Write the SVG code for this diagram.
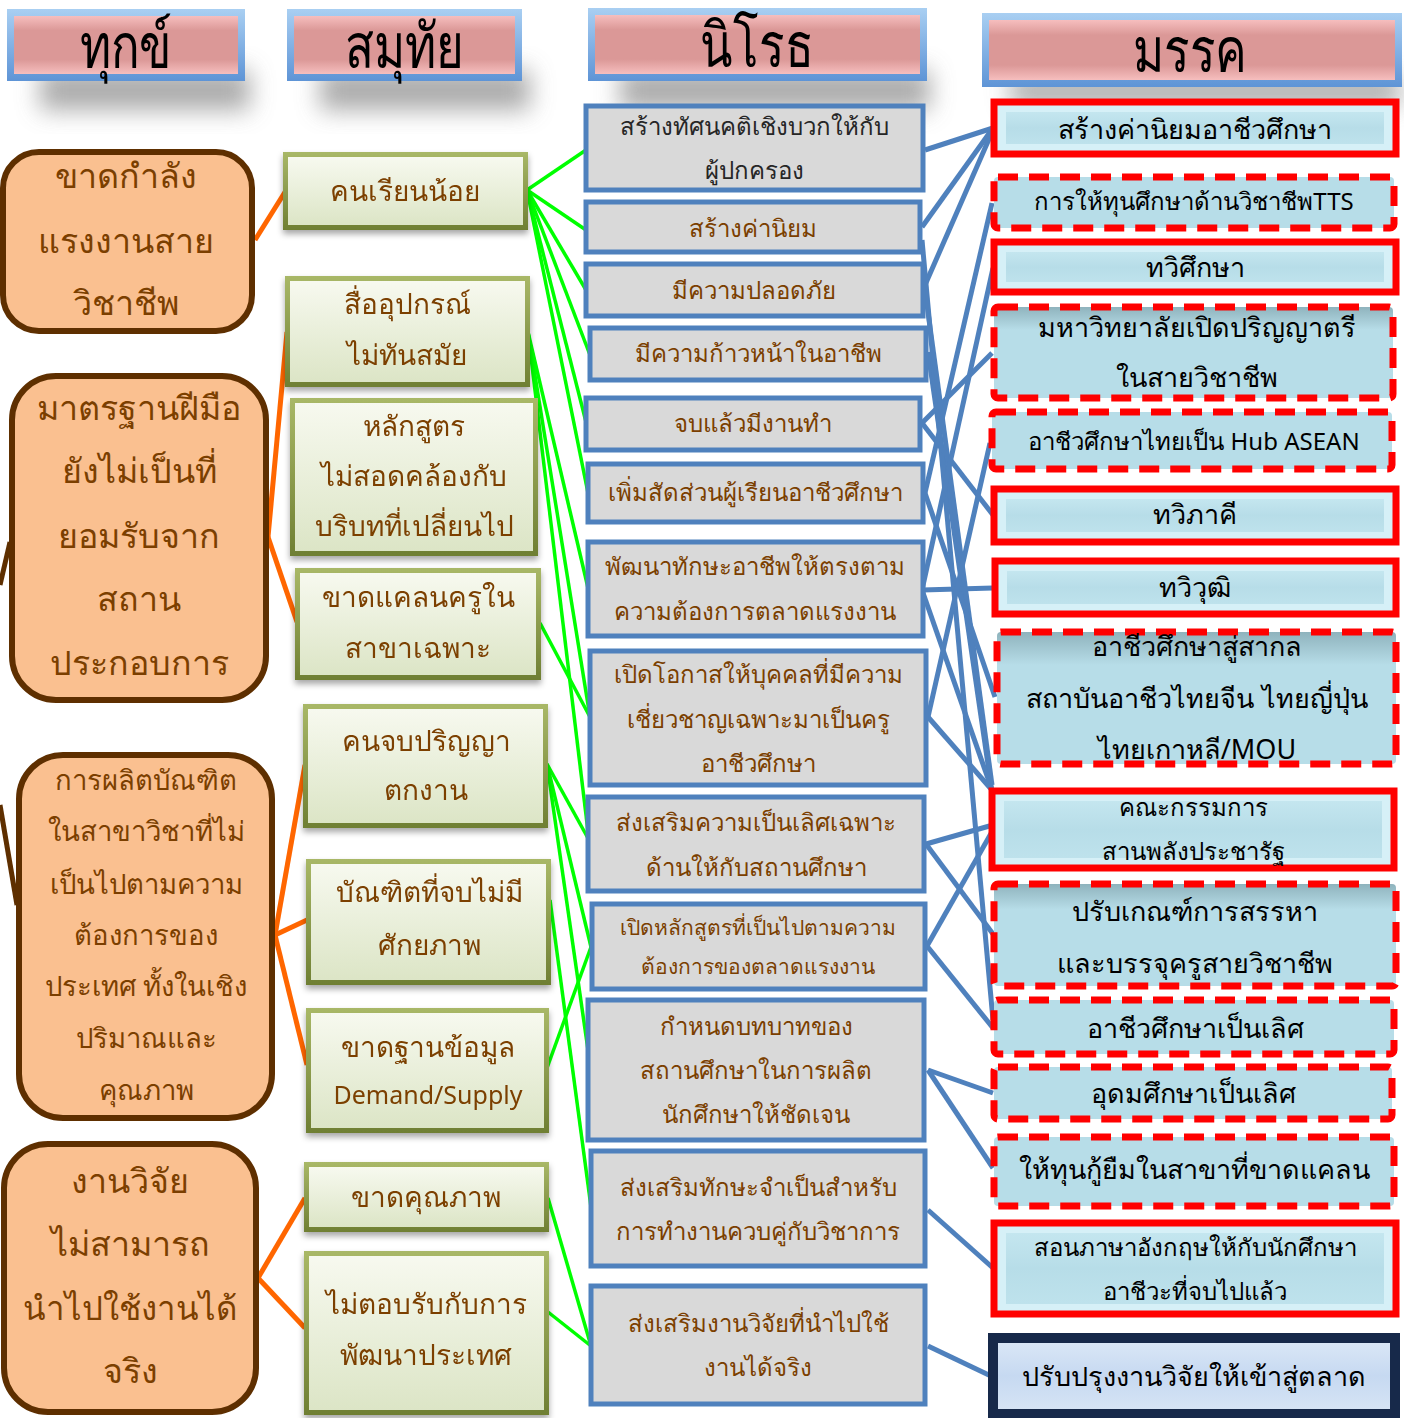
<svg xmlns="http://www.w3.org/2000/svg" width="1404" height="1418" viewBox="0 0 1404 1418">
<defs>
<style>
text{font-family:"Noto Sans","DejaVu Sans",sans-serif;text-anchor:middle;dominant-baseline:central}
.h text{font-size:54px;fill:#000}
.c1 rect{fill:#FAC090;stroke:#5E2F00;stroke-width:6}
.c1 text{font-size:34px;fill:#7B3F00}
.c2 text{font-size:28px;fill:#7B3F00}
.c3 rect{fill:#D9D9D9;stroke:#4F81BD;stroke-width:5}
.c3 text{font-size:24px;fill:#7B3F00}
.c4 text{font-size:27px;fill:#000}
.c4 .s{font-size:24px}
.sol{fill:#D6F0F7;stroke:#FF0000;stroke-width:7}
.in{fill:url(#gM)}
.das{fill:#B7DDE8;stroke:#FF0000;stroke-width:7;stroke-dasharray:20 11}
.org line{stroke:#FF6600;stroke-width:5}
.grn line{stroke:#00FF00;stroke-width:3.5}
.blu line{stroke:#4F81BD;stroke-width:5}
</style>
<linearGradient id="gHB" x1="0" y1="0" x2="0" y2="1"><stop offset="0" stop-color="#A9CFF2"/><stop offset="1" stop-color="#5E94D6"/></linearGradient>
<linearGradient id="gHP" x1="0" y1="0" x2="0" y2="1"><stop offset="0" stop-color="#F6BEBE"/><stop offset=".25" stop-color="#DB9897"/><stop offset=".75" stop-color="#DB9897"/><stop offset="1" stop-color="#F6BEBE"/></linearGradient>
<linearGradient id="gGB" x1="0" y1="0" x2="0" y2="1"><stop offset="0" stop-color="#A9B867"/><stop offset="1" stop-color="#6F7F33"/></linearGradient>
<linearGradient id="gGF" x1="0" y1="0" x2="0" y2="1"><stop offset="0" stop-color="#F7F9EF"/><stop offset="1" stop-color="#DCE5C6"/></linearGradient>
<linearGradient id="gM" x1="0" y1="0" x2="0" y2="1"><stop offset="0" stop-color="#C4E6EF"/><stop offset=".5" stop-color="#B7DDE8"/><stop offset="1" stop-color="#BEE2EC"/></linearGradient>
<linearGradient id="gD" x1="0" y1="0" x2="0" y2="1"><stop offset="0" stop-color="#8FB3BD"/><stop offset=".25" stop-color="#B7DDE8"/><stop offset="1" stop-color="#B7DDE8"/></linearGradient>
<linearGradient id="gN" x1="0" y1="0" x2="0" y2="1"><stop offset="0" stop-color="#DCE8F7"/><stop offset=".5" stop-color="#C6D9F1"/><stop offset="1" stop-color="#D8E5F5"/></linearGradient>
<filter id="ds" x="-10%" y="-10%" width="120%" height="130%"><feDropShadow dx="0" dy="4" stdDeviation="3" flood-color="#000" flood-opacity=".35"/></filter>
<filter id="blur" x="-20%" y="-60%" width="140%" height="220%"><feGaussianBlur stdDeviation="12"/></filter>
</defs>
<rect width="1404" height="1418" fill="#fff"/>

<g id="header-shadows" fill="#8f8f8f" opacity=".75" filter="url(#blur)">
<rect x="40" y="70" width="210" height="40"/>
<rect x="320" y="70" width="210" height="40"/>
<rect x="620" y="70" width="310" height="40"/>
<rect x="1010" y="76" width="390" height="30"/>
</g>

<g id="h-dukkha" class="h"><rect x="7" y="9" width="238" height="72" fill="url(#gHB)"/><rect x="14" y="16" width="224" height="58" fill="url(#gHP)"/><text transform="translate(126,44) scale(0.88,1.15)">ทุกข์</text></g>
<g id="h-samuthai" class="h"><rect x="287" y="9" width="235" height="72" fill="url(#gHB)"/><rect x="294" y="16" width="221" height="58" fill="url(#gHP)"/><text transform="translate(404,44) scale(0.88,1.15)">สมุทัย</text></g>
<g id="h-nirodha" class="h"><rect x="588" y="8" width="339" height="73" fill="url(#gHB)"/><rect x="595" y="15" width="325" height="59" fill="url(#gHP)"/><text transform="translate(757,43) scale(0.88,1.15)">นิโรธ</text></g>
<g id="h-magga" class="h"><rect x="982" y="13" width="420" height="74" fill="url(#gHB)"/><rect x="989" y="20" width="406" height="60" fill="url(#gHP)"/><text transform="translate(1190,48) scale(0.88,1.15)">มรรค</text></g>

<g id="connectors">
<g class="org">
<line x1="255" y1="240" x2="285" y2="192"/>
<line x1="268" y1="537" x2="287" y2="332"/>
<line x1="268" y1="537" x2="297" y2="622"/>
<line x1="275" y1="935" x2="305" y2="765"/>
<line x1="275" y1="935" x2="307" y2="920"/>
<line x1="275" y1="935" x2="307" y2="1065"/>
<line x1="258" y1="1278" x2="305" y2="1198"/>
<line x1="258" y1="1278" x2="305" y2="1328"/>
<line x1="0" y1="585" x2="10" y2="542" style="stroke:#5E2F00"/>
<line x1="0" y1="805" x2="17" y2="905" style="stroke:#5E2F00"/>
</g>
<g class="grn">
<line x1="527" y1="190" x2="586" y2="150"/>
<line x1="527" y1="190" x2="586" y2="230"/>
<line x1="527" y1="190" x2="586" y2="290"/>
<line x1="527" y1="190" x2="590" y2="355"/>
<line x1="527" y1="190" x2="586" y2="422"/>
<line x1="527" y1="190" x2="588" y2="493"/>
<line x1="528" y1="332" x2="588" y2="588"/>
<line x1="528" y1="332" x2="590" y2="717"/>
<line x1="528" y1="332" x2="589" y2="840"/>
<line x1="540" y1="623" x2="590" y2="717"/>
<line x1="547" y1="764" x2="589" y2="840"/>
<line x1="547" y1="764" x2="591" y2="947"/>
<line x1="547" y1="764" x2="591" y2="1071"/>
<line x1="550" y1="900" x2="591" y2="1207"/>
<line x1="547" y1="1068" x2="591" y2="947"/>
<line x1="548" y1="1198" x2="591" y2="1346"/>
<line x1="548" y1="1312" x2="591" y2="1346"/>
</g>
<g class="blu">
<line x1="925" y1="150" x2="993" y2="128"/>
<line x1="922" y1="227" x2="993" y2="128"/>
<line x1="925" y1="285" x2="993" y2="130"/>
<line x1="928" y1="352" x2="992" y2="792"/>
<line x1="922" y1="240" x2="993" y2="1020"/>
<line x1="925" y1="290" x2="992" y2="785"/>
<line x1="922" y1="423" x2="993" y2="515"/>
<line x1="922" y1="423" x2="992" y2="353"/>
<line x1="925" y1="493" x2="992" y2="203"/>
<line x1="925" y1="493" x2="995" y2="697"/>
<line x1="922" y1="590" x2="993" y2="588"/>
<line x1="922" y1="590" x2="993" y2="268"/>
<line x1="922" y1="590" x2="992" y2="790"/>
<line x1="928" y1="717" x2="990" y2="443"/>
<line x1="928" y1="717" x2="992" y2="790"/>
<line x1="926" y1="844" x2="993" y2="825"/>
<line x1="926" y1="844" x2="993" y2="934"/>
<line x1="927" y1="946" x2="993" y2="830"/>
<line x1="927" y1="946" x2="993" y2="1028"/>
<line x1="928" y1="1070" x2="993" y2="1093"/>
<line x1="928" y1="1070" x2="993" y2="1168"/>
<line x1="928" y1="1210" x2="993" y2="1268"/>
<line x1="928" y1="1346" x2="993" y2="1377"/>
</g>
</g>

<g id="a1" class="c1"><rect x="3" y="152" width="249" height="179" rx="36"/><text x="126" y="175">ขาดกำลัง</text><text x="126" y="240">แรงงานสาย</text><text x="126" y="302">วิชาชีพ</text></g>
<g id="a2" class="c1"><rect x="12" y="376" width="254" height="324" rx="44"/><text x="139" y="407">มาตรฐานฝีมือ</text><text x="139" y="470">ยังไม่เป็นที่</text><text x="139" y="535">ยอมรับจาก</text><text x="139" y="598">สถาน</text><text x="139" y="662">ประกอบการ</text></g>
<g id="a3" class="c1"><rect x="19" y="755" width="253" height="363" rx="44"/><text x="146" y="779" style="font-size:27.5px">การผลิตบัณฑิต</text><text x="146" y="830" style="font-size:27.5px">ในสาขาวิชาที่ไม่</text><text x="146" y="883" style="font-size:27.5px">เป็นไปตามความ</text><text x="146" y="934" style="font-size:27.5px">ต้องการของ</text><text x="146" y="985" style="font-size:27.5px">ประเทศ ทั้งในเชิง</text><text x="146" y="1037" style="font-size:27.5px">ปริมาณและ</text><text x="146" y="1089" style="font-size:27.5px">คุณภาพ</text></g>
<g id="a4" class="c1"><rect x="4" y="1144" width="252" height="268" rx="44"/><text x="130" y="1180">งานวิจัย</text><text x="130" y="1243">ไม่สามารถ</text><text x="130" y="1307" style="font-size:33px">นำไปใช้งานได้</text><text x="130" y="1370">จริง</text></g>

<g id="b1" class="c2" filter="url(#ds)"><rect x="283" y="152" width="245" height="78" fill="url(#gGB)"/><rect x="288" y="157" width="235" height="68" fill="url(#gGF)"/><text x="405" y="190">คนเรียนน้อย</text></g>
<g id="b2" class="c2" filter="url(#ds)"><rect x="285" y="276" width="245" height="111" fill="url(#gGB)"/><rect x="290" y="281" width="235" height="101" fill="url(#gGF)"/><text x="407" y="303">สื่ออุปกรณ์</text><text x="407" y="354">ไม่ทันสมัย</text></g>
<g id="b3" class="c2" filter="url(#ds)"><rect x="290" y="398" width="248" height="158" fill="url(#gGB)"/><rect x="295" y="403" width="238" height="148" fill="url(#gGF)"/><text x="414" y="425">หลักสูตร</text><text x="414" y="475">ไม่สอดคล้องกับ</text><text x="414" y="525">บริบทที่เปลี่ยนไป</text></g>
<g id="b4" class="c2" filter="url(#ds)"><rect x="295" y="568" width="246" height="112" fill="url(#gGB)"/><rect x="300" y="573" width="236" height="102" fill="url(#gGF)"/><text x="418" y="596">ขาดแคลนครูใน</text><text x="418" y="647">สาขาเฉพาะ</text></g>
<g id="b5" class="c2" filter="url(#ds)"><rect x="303" y="704" width="245" height="124" fill="url(#gGB)"/><rect x="308" y="709" width="235" height="114" fill="url(#gGF)"/><text x="426" y="740">คนจบปริญญา</text><text x="426" y="789">ตกงาน</text></g>
<g id="b6" class="c2" filter="url(#ds)"><rect x="306" y="859" width="245" height="126" fill="url(#gGB)"/><rect x="311" y="864" width="235" height="116" fill="url(#gGF)"/><text x="429" y="891">บัณฑิตที่จบไม่มี</text><text x="429" y="944">ศักยภาพ</text></g>
<g id="b7" class="c2" filter="url(#ds)"><rect x="306" y="1008" width="243" height="125" fill="url(#gGB)"/><rect x="311" y="1013" width="233" height="115" fill="url(#gGF)"/><text x="428" y="1046">ขาดฐานข้อมูล</text><text x="428" y="1094" style="font-size:25px">Demand/Supply</text></g>
<g id="b8" class="c2" filter="url(#ds)"><rect x="304" y="1162" width="245" height="70" fill="url(#gGB)"/><rect x="309" y="1167" width="235" height="60" fill="url(#gGF)"/><text x="426" y="1196">ขาดคุณภาพ</text></g>
<g id="b9" class="c2" filter="url(#ds)"><rect x="304" y="1251" width="245" height="164" fill="url(#gGB)"/><rect x="309" y="1256" width="235" height="154" fill="url(#gGF)"/><text x="426" y="1303">ไม่ตอบรับกับการ</text><text x="426" y="1354">พัฒนาประเทศ</text></g>

<g id="n1" class="c3"><rect x="586" y="106" width="337" height="84"/><text x="754" y="125" style="fill:#262626">สร้างทัศนคติเชิงบวกให้กับ</text><text x="754" y="169" style="fill:#262626">ผู้ปกครอง</text></g>
<g id="n2" class="c3"><rect x="586" y="202" width="334" height="50"/><text x="753" y="227">สร้างค่านิยม</text></g>
<g id="n3" class="c3"><rect x="586" y="264" width="337" height="52"/><text x="754" y="289">มีความปลอดภัย</text></g>
<g id="n4" class="c3"><rect x="590" y="328" width="336" height="52"/><text x="758" y="352">มีความก้าวหน้าในอาชีพ</text></g>
<g id="n5" class="c3"><rect x="586" y="398" width="334" height="52"/><text x="753" y="422">จบแล้วมีงานทำ</text></g>
<g id="n6" class="c3"><rect x="588" y="464" width="335" height="58"/><text x="755" y="491">เพิ่มสัดส่วนผู้เรียนอาชีวศึกษา</text></g>
<g id="n7" class="c3"><rect x="588" y="542" width="335" height="94"/><text x="755" y="565">พัฒนาทักษะอาชีพให้ตรงตาม</text><text x="755" y="610">ความต้องการตลาดแรงงาน</text></g>
<g id="n8" class="c3"><rect x="590" y="651" width="336" height="134"/><text x="758" y="673">เปิดโอกาสให้บุคคลที่มีความ</text><text x="758" y="718">เชี่ยวชาญเฉพาะมาเป็นครู</text><text x="758" y="762">อาชีวศึกษา</text></g>
<g id="n9" class="c3"><rect x="588" y="797" width="336" height="94"/><text x="756" y="821">ส่งเสริมความเป็นเลิศเฉพาะ</text><text x="756" y="866">ด้านให้กับสถานศึกษา</text></g>
<g id="n10" class="c3"><rect x="592" y="904" width="333" height="85"/><text x="758" y="927" style="font-size:21px">เปิดหลักสูตรที่เป็นไปตามความ</text><text x="758" y="966" style="font-size:21px">ต้องการของตลาดแรงงาน</text></g>
<g id="n11" class="c3"><rect x="588" y="1000" width="336" height="140"/><text x="756" y="1025">กำหนดบทบาทของ</text><text x="756" y="1069">สถานศึกษาในการผลิต</text><text x="756" y="1113">นักศึกษาให้ชัดเจน</text></g>
<g id="n12" class="c3"><rect x="591" y="1151" width="334" height="115"/><text x="758" y="1186">ส่งเสริมทักษะจำเป็นสำหรับ</text><text x="758" y="1230">การทำงานควบคู่กับวิชาการ</text></g>
<g id="n13" class="c3"><rect x="591" y="1286" width="334" height="118"/><text x="758" y="1322">ส่งเสริมงานวิจัยที่นำไปใช้</text><text x="758" y="1366">งานได้จริง</text></g>

<g id="m1" class="c4"><rect class="sol" x="994" y="102" width="402" height="52"/><rect class="in" x="1006" y="112" width="378" height="32"/><text x="1195" y="128">สร้างค่านิยมอาชีวศึกษา</text></g>
<g id="m2" class="c4"><rect class="das" x="994" y="177" width="400" height="51" rx="4"/><text class="s" x="1194" y="200">การให้ทุนศึกษาด้านวิชาชีพTTS</text></g>
<g id="m3" class="c4"><rect class="sol" x="994" y="242" width="402" height="50"/><rect class="in" x="1006" y="252" width="378" height="30"/><text x="1195" y="266">ทวิศึกษา</text></g>
<g id="m4" class="c4"><rect class="das" x="994" y="307" width="399" height="91" rx="4" style="fill:url(#gD)"/><text x="1197" y="326">มหาวิทยาลัยเปิดปริญญาตรี</text><text x="1197" y="376">ในสายวิชาชีพ</text></g>
<g id="m5" class="c4"><rect class="das" x="992" y="412" width="400" height="57" rx="4"/><text class="s" x="1194" y="440">อาชีวศึกษาไทยเป็น Hub ASEAN</text></g>
<g id="m6" class="c4"><rect class="sol" x="994" y="489" width="402" height="53"/><rect class="in" x="1006" y="499" width="378" height="33"/><text x="1195" y="513">ทวิภาคี</text></g>
<g id="m7" class="c4"><rect class="sol" x="995" y="561" width="401" height="53"/><rect class="in" x="1007" y="571" width="377" height="33"/><text x="1195" y="586">ทวิวุฒิ</text></g>
<g id="m8" class="c4"><rect class="das" x="997" y="632" width="399" height="132" rx="4" style="fill:url(#gD)"/><text x="1197" y="645">อาชีวศึกษาสู่สากล</text><text x="1197" y="697">สถาบันอาชีวไทยจีน ไทยญี่ปุ่น</text><text x="1197" y="748">ไทยเกาหลี/MOU</text></g>
<g id="m9" class="c4"><rect class="sol" x="992" y="791" width="402" height="77"/><rect class="in" x="1004" y="801" width="378" height="57"/><text class="s" x="1193" y="806">คณะกรรมการ</text><text class="s" x="1193" y="850">สานพลังประชารัฐ</text></g>
<g id="m10" class="c4"><rect class="das" x="994" y="884" width="402" height="102" rx="4" style="fill:url(#gD)"/><text x="1195" y="910">ปรับเกณฑ์การสรรหา</text><text x="1195" y="962">และบรรจุครูสายวิชาชีพ</text></g>
<g id="m11" class="c4"><rect class="das" x="994" y="1000" width="400" height="54" rx="4"/><text x="1195" y="1027">อาชีวศึกษาเป็นเลิศ</text></g>
<g id="m12" class="c4"><rect class="das" x="994" y="1067" width="398" height="52" rx="4"/><text x="1193" y="1092">อุดมศึกษาเป็นเลิศ</text></g>
<g id="m13" class="c4"><rect class="das" x="994" y="1137" width="400" height="69" rx="4"/><text x="1194" y="1168">ให้ทุนกู้ยืมในสาขาที่ขาดแคลน</text></g>
<g id="m14" class="c4"><rect class="sol" x="994" y="1223" width="402" height="91"/><rect class="in" x="1006" y="1233" width="378" height="71"/><text class="s" x="1195" y="1246">สอนภาษาอังกฤษให้กับนักศึกษา</text><text class="s" x="1195" y="1290">อาชีวะที่จบไปแล้ว</text></g>
<g id="m15" class="c4"><rect x="993" y="1338" width="402" height="76" fill="url(#gN)" stroke="#17294A" stroke-width="10"/><text x="1194" y="1375">ปรับปรุงงานวิจัยให้เข้าสู่ตลาด</text></g>
</svg>
